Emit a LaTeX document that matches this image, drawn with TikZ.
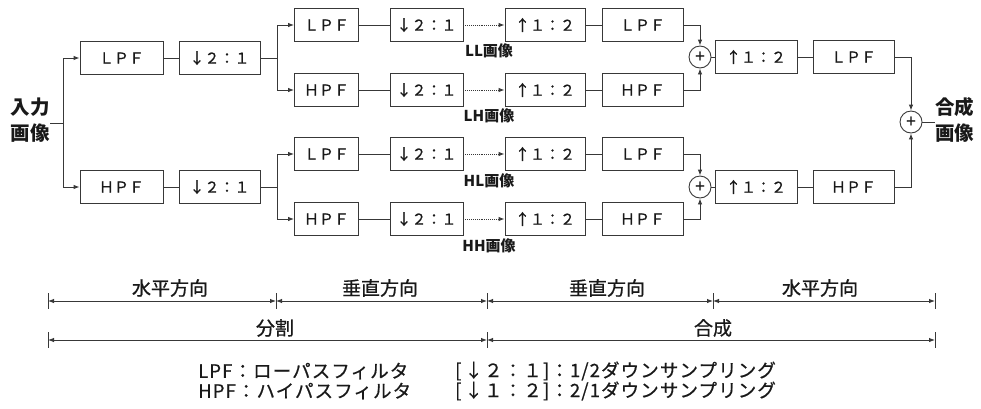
\documentclass[tikz,border=0pt]{standalone}
\usepackage{fontspec}
\setmainfont{Noto Sans CJK JP}
\newfontfamily\jpm[FakeBold=0.8]{Noto Sans CJK JP}
\newfontfamily\jpl[FakeBold=0.6,LetterSpace=6]{Noto Sans CJK JP}
\usetikzlibrary{arrows.meta,calc}
\definecolor{ink}{gray}{0.22}
\definecolor{txt}{gray}{0.1}
\tikzset{
  ln/.style={draw=ink, line width=0.9pt},
  arr/.style={ln, -{Latex[length=6pt,width=4.5pt]}},
  dimarr/.style={ln, {Latex[length=6pt,width=4.5pt]}-{Latex[length=6pt,width=4.5pt]}},
  blk/.style={draw=ink, line width=0.9pt, minimum height=33pt, inner sep=0pt, text=txt, font=\jpm\fontsize{15pt}{16pt}\selectfont},
  sumnode/.style={circle, draw=ink, line width=0.9pt, minimum size=22pt, inner sep=0pt, text=txt, font=\jpm\fontsize{17pt}{17pt}\selectfont},
  imglabel/.style={text=txt, inner sep=0pt, font=\fontsize{15pt}{16pt}\selectfont\bfseries},
  bigtxt/.style={text=txt, align=center, inner sep=0pt, font=\fontsize{19.5pt}{26pt}\selectfont\bfseries},
  dimtxt/.style={text=txt, inner sep=0pt, font=\jpm\fontsize{19pt}{20pt}\selectfont},
  legtxt/.style={text=txt, inner sep=0pt, anchor=west, font=\jpl\fontsize{18.5pt}{20pt}\selectfont},
}
\begin{document}
\begin{tikzpicture}[x=1pt,y=-1pt]
\useasboundingbox (0,0) rectangle (981,408);
% input
\node[bigtxt, anchor=east] (inp) at (50,120) {入力\\画像};
\coordinate (s1) at (63,123);
% level 1
\node[blk, minimum width=83pt] (L1) at (121.5,58) {ＬＰＦ};
\node[blk, minimum width=81pt] (DL1) at (219.5,58) {↓２：１};
\node[blk, minimum width=83pt] (H1) at (121.5,187) {ＨＰＦ};
\node[blk, minimum width=81pt] (DH1) at (219.5,187) {↓２：１};
\coordinate (sa) at (277,58);
\coordinate (sb) at (277,187);
% level 2 rows
\foreach \nm/\y/\f/\g in {LL/25/ＬＰＦ/ＬＰＦ, LH/90/ＨＰＦ/ＨＰＦ, HL/154/ＬＰＦ/ＬＰＦ, HH/219/ＨＰＦ/ＨＰＦ}{
  \node[blk, minimum width=64pt] (A\nm) at (326.5,\y) {\f};
  \node[blk, minimum width=73pt] (D\nm) at (426.5,\y) {↓２：１};
  \node[blk, minimum width=80pt] (U\nm) at (545,\y) {↑１：２};
  \node[blk, minimum width=81pt] (F\nm) at (642.5,\y) {\g};
}
\node[imglabel] (lLL) at (489,51) {LL画像};
\node[imglabel] (lLH) at (489,116) {LH画像};
\node[imglabel] (lHL) at (489,181) {HL画像};
\node[imglabel] (lHH) at (489,246) {HH画像};
% sums
\node[sumnode] (S1) at (700,57) {+};
\node[sumnode] (S2) at (700,187) {+};
% level 3
\node[blk, minimum width=82pt] (U3a) at (756,57) {↑１：２};
\node[blk, minimum width=81pt] (F3a) at (853.5,57) {ＬＰＦ};
\node[blk, minimum width=82pt] (U3b) at (756,187) {↑１：２};
\node[blk, minimum width=81pt] (F3b) at (853.5,187) {ＨＰＦ};
\node[sumnode] (S3) at (911,122) {+};
\node[bigtxt, anchor=west] (outp) at (935,120) {合成\\画像};
% connectors
\draw[ln] (inp.east |- s1) -- (s1);
\draw[arr] (s1) |- (L1.west);
\draw[arr] (s1) |- (H1.west);
\draw[ln] (L1) -- (DL1);
\draw[ln] (H1) -- (DH1);
\draw[ln] (DL1.east) -- (sa);
\draw[ln] (DH1.east) -- (sb);
\draw[arr] (sa) |- (ALL.west);
\draw[arr] (sa) |- (ALH.west);
\draw[arr] (sb) |- (AHL.west);
\draw[arr] (sb) |- (AHH.west);
\foreach \nm in {LL,LH,HL,HH}{
  \draw[ln] (A\nm) -- (D\nm);
  \draw[arr, densely dotted] (D\nm) -- (U\nm);
  \draw[ln] (U\nm) -- (F\nm);
}
\draw[arr] (FLL.east) -| (S1.north);
\draw[arr] (FLH.east) -| (S1.south);
\draw[arr] (FHL.east) -| (S2.north);
\draw[arr] (FHH.east) -| (S2.south);
\draw[ln] (S1) -- (U3a);
\draw[ln] (U3a) -- (F3a);
\draw[ln] (S2) -- (U3b);
\draw[ln] (U3b) -- (F3b);
\draw[arr] (F3a.east) -| (S3.north);
\draw[arr] (F3b.east) -| (S3.south);
\draw[ln] (S3) -- (outp.west |- S3);
% dimension lines
\foreach \i/\x in {0/48,1/276,2/487,3/713,4/935}{
  \coordinate (d\i) at (\x,301);
  \draw[ln] (\x,293) -- (\x,309);
}
\foreach \i/\x in {0/48,1/487,2/935}{
  \coordinate (e\i) at (\x,340);
  \draw[ln] (\x,332) -- (\x,348);
}
\draw[dimarr] (d0) -- (d1);
\draw[dimarr] (d1) -- (d2);
\draw[dimarr] (d2) -- (d3);
\draw[dimarr] (d3) -- (d4);
\draw[dimarr] (e0) -- (e1);
\draw[dimarr] (e1) -- (e2);
\node[dimtxt] (t1) at (170,288) {水平方向};
\node[dimtxt] (t2) at (380,288) {垂直方向};
\node[dimtxt] (t3) at (607,288) {垂直方向};
\node[dimtxt] (t4) at (820,288) {水平方向};
\node[dimtxt] (t5) at (275,328) {分割};
\node[dimtxt] (t6) at (713,328) {合成};
% legend
\node[legtxt] (g1) at (198,371) {LPF：ローパスフィルタ};
\node[legtxt] (g2) at (198,391) {HPF：ハイパスフィルタ};
\node[legtxt] (g3) at (455,371) {[\,↓２：１]：1/2ダウンサンプリング};
\node[legtxt] (g4) at (455,391) {[\,↓１：２]：2/1ダウンサンプリング};
\end{tikzpicture}
\end{document}
